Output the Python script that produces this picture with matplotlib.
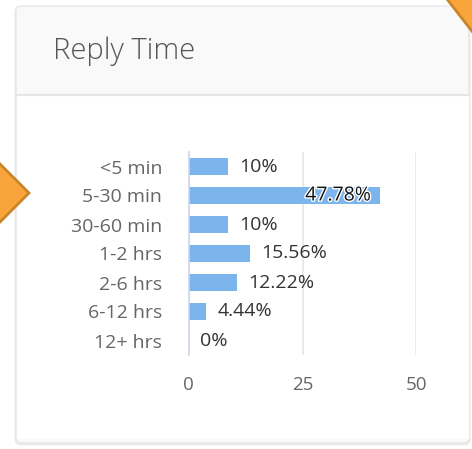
import matplotlib.pyplot as plt
import matplotlib.patheffects as pe
from matplotlib.patches import FancyBboxPatch, Rectangle, Polygon

categories = ['<5 min', '5-30 min', '30-60 min', '1-2 hrs', '2-6 hrs', '6-12 hrs', '12+ hrs']
pct = [10, 47.78, 10, 15.56, 12.22, 4.44, 0]
# bars were caught mid-animation: lengths as actually drawn in the picture
bar_len = [8.75, 42.0, 8.75, 13.5, 10.7, 3.85, 0]
x_ticks = [0, 25, 50]
x_max = 50

W, H = 472, 449
plt.rcParams['font.family'] = ['Open Sans', 'DejaVu Sans']

fig = plt.figure(figsize=(W / 100, H / 100), dpi=100)
fig.patch.set_facecolor('white')

# background layer in pixel coords for the card decoration
bg = fig.add_axes([0, 0, 1, 1])
bg.set_xlim(0, W)
bg.set_ylim(H, 0)
bg.axis('off')

# soft shadow + card
bg.add_patch(FancyBboxPatch((14.5, 6), 456, 439.5, boxstyle='round,pad=0,rounding_size=6',
                            fc='#ececec', ec='none'))
bg.add_patch(FancyBboxPatch((16, 6), 453, 437, boxstyle='round,pad=0,rounding_size=5',
                            fc='#f9f9f9', ec='#e3e3e3', lw=0.8))
bg.add_patch(Rectangle((16.5, 95), 452, 344, fc='white', ec='none'))
bg.plot([16.5, 468.5], [94.5, 94.5], color='#e6e6e6', lw=1.5)
bg.text(53, 51, 'Reply Time', fontsize=21, color='#555555', va='center', fontweight='light')

# orange markers poking in from outside the card
bg.add_patch(Polygon([(-3, 161), (29, 193), (-3, 225)], closed=True, fc='#f9a53c', ec='#c8862a', lw=2))
bg.add_patch(Polygon([(446, -2), (474, -2), (474, 34)], closed=True, fc='#f9a53c', ec='#c8862a', lw=2))

# chart
ax = fig.add_axes([188.5 / W, 1 - 355 / H, (416.5 - 188.5) / W, (355 - 152) / H])
ax.set_facecolor('none')
y = list(range(len(categories)))
ax.barh(y, bar_len, height=0.62, color='#7cb5ec', zorder=2)
ax.set_xlim(0, x_max)
ax.set_ylim(len(categories) - 0.5, -0.5)

ax.set_xticks(x_ticks)
ax.set_xticklabels([str(t) for t in x_ticks])
ax.set_yticks(y)
ax.set_yticklabels(categories)
ax.tick_params(axis='x', length=0, pad=15, labelsize=13.5, labelcolor='#666666')
ax.tick_params(axis='y', length=0, pad=19, labelsize=14, labelcolor='#666666')

ax.xaxis.grid(True, color='#e6e6e6', lw=1.2, zorder=0)
ax.set_axisbelow(True)
for s in ['top', 'right', 'bottom']:
    ax.spines[s].set_visible(False)
ax.spines['left'].set_color('#ccd6eb')
ax.spines['left'].set_linewidth(1.2)
ax.spines['left'].set_zorder(3)

for yi, b, p in zip(y, bar_len, pct):
    label = f'{p:g}%'
    if b > 0.7 * x_max:
        ax.annotate(label, (b, yi), xytext=(-6.5, 0), textcoords='offset points',
                    ha='right', va='center', fontsize=14, color='#111111', zorder=4,
                    path_effects=[pe.withStroke(linewidth=2, foreground='white')])
    else:
        ax.annotate(label, (b, yi), xytext=(8, 0), textcoords='offset points',
                    ha='left', va='center', fontsize=14, color='#333333', zorder=4)

fig.savefig('out.png', dpi=100, facecolor=fig.get_facecolor())
